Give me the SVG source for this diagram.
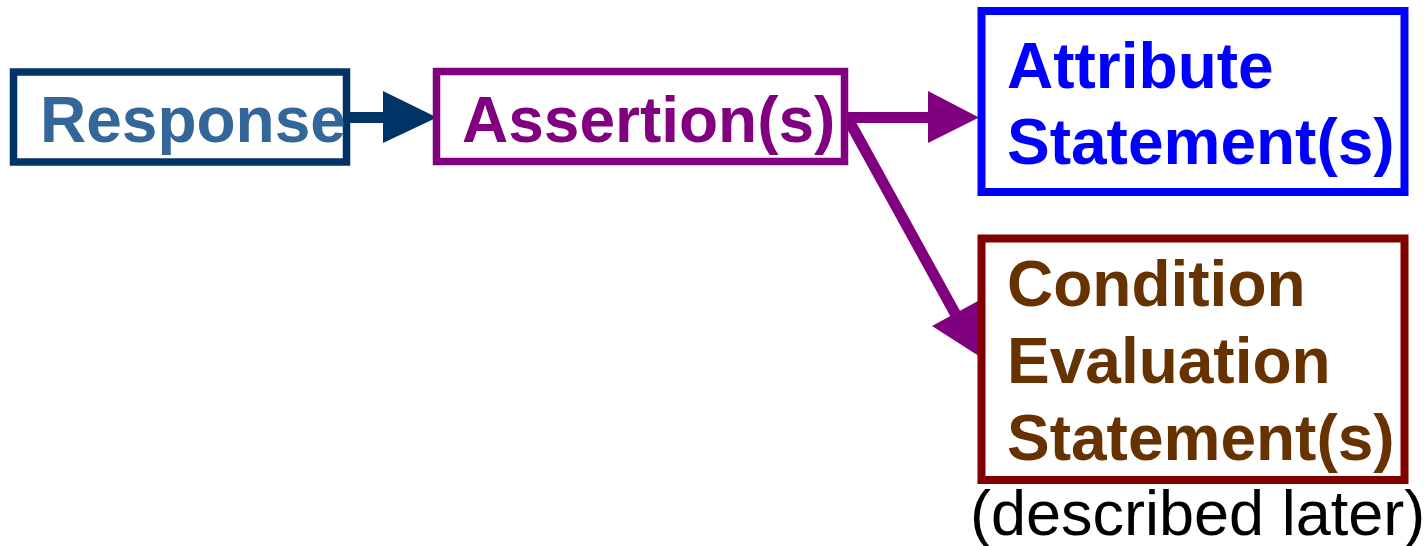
<svg xmlns="http://www.w3.org/2000/svg" width="1427" height="546" viewBox="0 0 1427 546">
<style>
.box{fill:#fff;}
.t{font-family:"Liberation Sans",Arial,sans-serif;font-weight:bold;font-size:64px;}
.note{font-family:"Liberation Sans",Arial,sans-serif;font-size:63px;fill:#000;}
</style>
<rect width="1427" height="546" fill="#fff"/>
<g id="connectors">
<line x1="350" y1="117.5" x2="385" y2="117.5" stroke="#003366" stroke-width="11"/>
<polygon points="383,91 437,117.5 383,143" fill="#003366"/>
<line x1="848" y1="117.5" x2="930" y2="117.5" stroke="#800080" stroke-width="11"/>
<polygon points="928,91 979,117.5 928,143" fill="#800080"/>
<line x1="848" y1="119" x2="956" y2="315" stroke="#800080" stroke-width="11"/>
<polygon points="932,326 978,301 982,358" fill="#800080"/>
</g>
<g id="response">
<rect class="box" x="13.5" y="72" width="333" height="90" stroke="#003366" stroke-width="7.5"/>
<text class="t" x="40" y="142" fill="#336699">Response</text>
</g>
<g id="assertion">
<rect class="box" x="436.5" y="71.5" width="408" height="90" stroke="#800080" stroke-width="7.5"/>
<text class="t" x="462" y="142" fill="#800080">Assertion(s)</text>
</g>
<g id="attribute">
<rect class="box" x="981.5" y="11" width="423" height="181" stroke="#0000FF" stroke-width="8"/>
<text class="t" x="1007" y="87.5" fill="#0000FF">Attribute</text>
<text class="t" x="1007" y="163.5" fill="#0000FF">Statement(s)</text>
</g>
<g id="condition">
<rect class="box" x="981.5" y="238.5" width="423" height="241.5" stroke="#800000" stroke-width="8"/>
<text class="t" x="1007" y="306" fill="#663300">Condition</text>
<text class="t" x="1007" y="383" fill="#663300">Evaluation</text>
<text class="t" x="1007" y="460" fill="#663300">Statement(s)</text>
<text class="note" x="970" y="535">(described later)</text>
</g>
</svg>
